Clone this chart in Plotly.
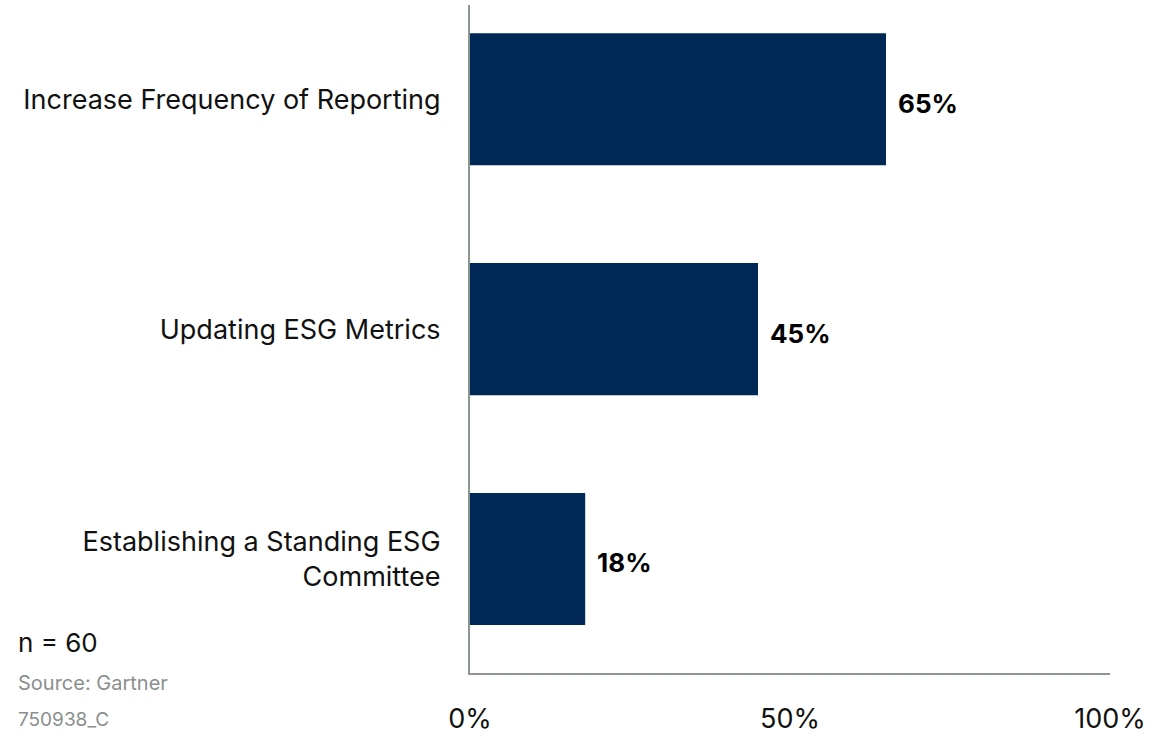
import plotly.graph_objects as go

categories = ["Establishing a Standing ESG<br>Committee", "Updating ESG Metrics", "Increase Frequency of Reporting"]
values = [18, 45, 65]
tick_vals = [0, 50, 100]
tick_text = ["0%", "50%", "100%"]

FONT = "Inter, Lato, Roboto, sans-serif"
BAR = "#002856"
AXIS = "#8c9691"

fig = go.Figure()
fig.add_trace(go.Bar(
    y=categories, x=values, orientation="h",
    marker=dict(color=BAR, line=dict(width=0)),
    width=0.575, hoverinfo="skip",
))
for c, v in zip(categories, values):
    fig.add_annotation(x=v, y=c, text=f"<b>{v}%</b>", showarrow=False,
                       xanchor="left", xshift=10, yshift=-4,
                       font=dict(family=FONT, size=26, color="#000000", weight=800))

PH = 668
fig.add_annotation(xref="paper", yref="paper", x=-454/640, y=(673 - 642) / PH,
                   xanchor="left", yanchor="middle", showarrow=False,
                   text="n = 60", font=dict(family=FONT, size=26, color="#111111"))
fig.add_annotation(xref="paper", yref="paper", x=-454/640, y=(673 - 683) / PH,
                   xanchor="left", yanchor="middle", showarrow=False,
                   text="Source: Gartner", font=dict(family=FONT, size=20, color="#8a8f8d"))
fig.add_annotation(xref="paper", yref="paper", x=-454/640, y=(673 - 719) / PH,
                   xanchor="left", yanchor="middle", showarrow=False,
                   text="750938_C", font=dict(family=FONT, size=19, color="#8a8f8d"))

fig.update_layout(
    width=1153, height=736,
    margin=dict(l=470, r=43, t=5, b=63),
    paper_bgcolor="white", plot_bgcolor="white",
    showlegend=False,
    font=dict(family=FONT, size=27, color="#111111"),
    xaxis=dict(range=[0, 100], tickvals=tick_vals, ticktext=tick_text,
               showgrid=False, zeroline=False, showline=True, linecolor=AXIS, linewidth=2,
               ticks="", ticklabelstandoff=21, fixedrange=True, automargin=False,
               tickfont=dict(family=FONT, size=27, color="#111111")),
    yaxis=dict(range=[-0.496, 2.41], showgrid=False, zeroline=False,
               showline=True, linecolor=AXIS, linewidth=2, ticks="",
               ticklabelstandoff=22, fixedrange=True, automargin=False,
               tickfont=dict(family=FONT, size=27, color="#111111")),
)
fig.write_html("out.html", config={"displayModeBar": False},
               post_script="document.body.style.margin='0';")
